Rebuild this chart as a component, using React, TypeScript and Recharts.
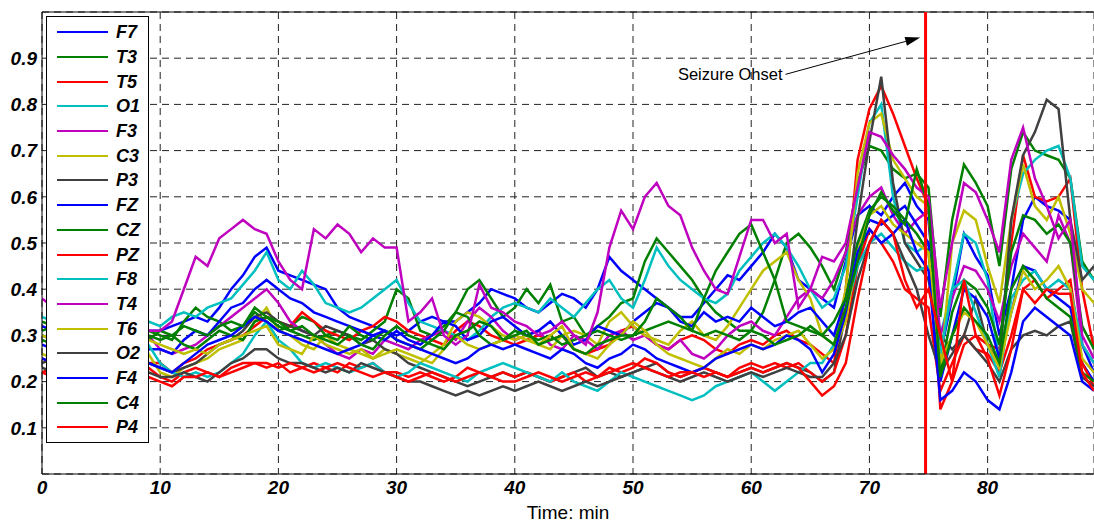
import { LineChart, Line, XAxis, YAxis, CartesianGrid, ReferenceLine, Legend } from 'recharts';

// minutes since start of recording
const MINUTES = [
  0, 1, 2, 3, 4, 5, 6, 7, 8, 9, 10, 11, 12, 13, 14, 15, 16, 17, 18, 19,
  20, 21, 22, 23, 24, 25, 26, 27, 28, 29, 30, 31, 32, 33, 34, 35, 36, 37, 38, 39,
  40, 41, 42, 43, 44, 45, 46, 47, 48, 49, 50, 51, 52, 53, 54, 55, 56, 57, 58, 59,
  60, 61, 62, 63, 64, 65, 66, 67, 68, 69, 70, 71, 72, 73, 74, 75, 76, 77, 78, 79,
  80, 81, 82, 83, 84, 85, 86, 87, 88, 89,
];

// channel values, in hundredths
const F7 = [
  32, 31, 33, 34, 33, 32, 31, 33, 32, 31,
  31, 32, 33, 34, 33, 36, 40, 43, 47, 49,
  44, 43, 42, 41, 40, 36, 34, 33, 32, 31,
  30, 31, 33, 34, 33, 33, 35, 37, 40, 39,
  38, 36, 35, 37, 39, 38, 36, 40, 47, 44,
  42, 40, 38, 36, 34, 34, 37, 40, 43, 42,
  45, 48, 52, 49, 42, 40, 38, 36, 46, 56,
  58, 56, 60, 63, 58, 55, 26, 38, 52, 47,
  43, 30, 40, 55, 60, 58, 57, 55, 28, 22,
];
const T3 = [
  33, 32, 31, 32, 31, 30, 31, 32, 31, 31,
  30, 29, 33, 36, 34, 33, 31, 32, 35, 33,
  31, 32, 34, 33, 30, 31, 30, 29, 31, 33,
  40, 38, 31, 30, 32, 35, 40, 42, 38, 34,
  36, 40, 37, 41, 33, 34, 30, 32, 34, 37,
  38, 46, 51, 48, 45, 42, 38, 35, 33, 31,
  31, 35, 42, 50, 52, 49, 45, 40, 48, 63,
  71, 70, 66, 64, 65, 62, 34, 55, 67, 63,
  58, 45, 66, 74, 70, 69, 68, 64, 46, 42,
];
const T5 = [
  25, 24, 26, 25, 24, 23, 24, 25, 24, 24,
  24, 22, 24, 25, 27, 28, 29, 30, 32, 34,
  33, 32, 35, 33, 31, 30, 29, 31, 32, 34,
  33, 31, 30, 29, 28, 31, 33, 32, 30, 29,
  28, 29, 30, 29, 30, 27, 26, 27, 28, 31,
  32, 30, 28, 27, 29, 30, 29, 27, 26, 28,
  29, 28, 30, 31, 29, 28, 26, 24, 40, 68,
  79, 84, 78, 71, 64, 58, 14, 20, 28, 30,
  28, 27, 50, 69, 60, 59, 60, 64, 40, 27,
];
const O1 = [
  34, 33, 35, 34, 33, 32, 33, 34, 33, 33,
  32, 34, 35, 34, 36, 37, 38, 41, 44, 48,
  42, 40, 44, 41, 37, 36, 35, 36, 38, 40,
  42, 37, 33, 32, 31, 30, 29, 31, 34, 36,
  37, 36, 35, 38, 36, 34, 37, 40, 42, 38,
  36, 42, 49, 45, 42, 40, 38, 37, 39, 44,
  47, 50, 52, 49, 45, 40, 36, 38, 45, 60,
  76, 80, 60, 50, 48, 50, 30, 40, 52, 50,
  42, 24, 55, 65, 68, 70, 71, 64, 45, 42,
];
const F3 = [
  30, 29, 30, 31, 30, 29, 28, 29, 30, 30,
  27, 26, 27, 28, 30, 32, 34, 36, 38, 40,
  37, 33, 31, 30, 28, 26, 25, 27, 26, 29,
  28, 27, 29, 30, 31, 29, 33, 36, 34, 31,
  29, 30, 31, 28, 27, 30, 29, 27, 30, 31,
  29, 30, 28, 27, 29, 26, 25, 27, 30, 32,
  33, 31, 30, 34, 38, 40, 38, 42, 48, 56,
  60, 62, 56, 52, 55, 57, 30, 38, 45, 44,
  40, 33, 45, 52, 49, 46, 56, 50, 28, 24,
];
const C3 = [
  26, 25, 27, 26, 25, 24, 25, 26, 25, 26,
  22, 21, 23, 24, 25, 27, 28, 29, 33, 36,
  31, 30, 28, 27, 30, 28, 27, 26, 25, 27,
  26, 25, 24, 26, 28, 33, 35, 34, 32, 30,
  29, 30, 28, 27, 30, 31, 30, 28, 33, 35,
  32, 30, 29, 28, 31, 33, 30, 29, 32, 36,
  40, 44, 46, 48, 42, 38, 30, 28, 40, 65,
  76, 78, 68, 64, 60, 58, 22, 50, 57, 55,
  45, 37, 55, 67, 58, 55, 60, 52, 40, 37,
];
const P3 = [
  24, 25, 24, 23, 24, 25, 24, 23, 24, 24,
  23, 22, 23, 24, 26, 28, 29, 31, 34, 35,
  33, 32, 31, 30, 32, 31, 30, 28, 29, 27,
  26, 24, 23, 22, 21, 20, 19, 20, 21, 22,
  21, 22, 21, 20, 21, 22, 23, 21, 22, 21,
  22, 23, 24, 22, 21, 22, 23, 22, 21, 22,
  23, 22, 23, 24, 23, 22, 20, 22, 35, 55,
  72, 86, 63, 50, 46, 42, 30, 27, 30, 38,
  28, 24, 55, 69, 74, 81, 79, 55, 42, 45,
];
const FZ = [
  28, 27, 28, 29, 28, 27, 28, 29, 28, 27,
  27, 26, 29, 31, 30, 33, 36, 37, 40, 42,
  40, 38, 37, 35, 34, 33, 32, 31, 30, 29,
  31, 29, 28, 30, 33, 32, 29, 30, 33, 34,
  32, 30, 31, 33, 30, 28, 29, 32, 31, 30,
  33, 35, 37, 36, 33, 32, 35, 33, 34, 33,
  36, 34, 32, 33, 35, 36, 33, 30, 38, 50,
  55, 54, 56, 58, 54, 50, 20, 30, 40, 38,
  34, 25, 35, 45, 44, 40, 38, 36, 24, 20,
];
const CZ = [
  29, 28, 27, 28, 29, 28, 27, 28, 28, 29,
  31, 30, 28, 27, 29, 31, 30, 29, 33, 34,
  32, 31, 30, 29, 30, 29, 32, 30, 29, 31,
  29, 28, 27, 29, 31, 35, 34, 30, 28, 29,
  31, 30, 29, 30, 28, 29, 30, 31, 30, 29,
  30, 31, 32, 33, 32, 31, 38, 44, 48, 52,
  54, 48, 42, 33, 32, 31, 30, 33, 38, 50,
  57, 60, 58, 55, 52, 48, 22, 35, 42, 40,
  36, 28, 48, 56, 55, 52, 54, 50, 32, 27,
];
const PZ = [
  22, 23, 24, 23, 22, 23, 24, 23, 22, 23,
  21, 20, 22, 23, 22, 21, 23, 24, 24, 23,
  24, 22, 23, 24, 23, 22, 24, 23, 24, 22,
  22, 21, 22, 21, 20, 21, 23, 22, 21, 22,
  21, 22, 21, 20, 21, 22, 20, 21, 23, 22,
  23, 25, 24, 22, 21, 22, 23, 22, 21, 23,
  24, 23, 24, 23, 24, 22, 20, 22, 30, 45,
  53, 50, 46, 40, 38, 36, 18, 24, 30, 27,
  26, 22, 30, 40, 42, 38, 40, 42, 24, 19,
];
const F8 = [
  30, 29, 28, 27, 28, 27, 26, 27, 28, 28,
  24, 22, 21, 22, 21, 22, 24, 26, 30, 33,
  29, 27, 24, 23, 24, 23, 22, 23, 24, 22,
  21, 22, 24, 23, 22, 21, 20, 22, 23, 24,
  23, 22, 21, 20, 22, 20, 19, 18, 20, 22,
  21, 20, 19, 18, 17, 16, 17, 19, 20, 21,
  22, 20, 18, 20, 22, 24, 24, 28, 35, 45,
  50, 52, 49, 46, 44, 45, 26, 40, 42, 35,
  28, 21, 38, 42, 44, 40, 42, 40, 28, 24,
];
const T4 = [
  38, 36, 35, 34, 33, 32, 31, 30, 30, 31,
  31, 33, 40, 47, 45, 51, 53, 55, 53, 52,
  46, 42, 40, 53, 51, 54, 52, 48, 51, 49,
  49, 33, 35, 38, 30, 28, 30, 41, 36, 35,
  33, 32, 30, 31, 33, 30, 28, 35, 49, 57,
  53, 60, 63, 58, 56, 49, 44, 40, 39, 47,
  55, 55, 50, 52, 36, 40, 47, 46, 50, 62,
  74, 73, 69, 66, 62, 60, 36, 50, 63, 61,
  55, 48, 68, 75, 64, 58, 51, 55, 30, 25,
];
const T6 = [
  30, 29, 28, 29, 30, 29, 28, 29, 30, 29,
  28, 27, 26, 27, 26, 28, 29, 30, 31, 32,
  28, 27, 26, 30, 28, 27, 26, 27, 25, 26,
  27, 26, 25, 24, 27, 30, 28, 27, 28, 29,
  30, 29, 28, 30, 32, 27, 26, 25, 28, 30,
  33, 31, 28, 26, 25, 24, 23, 25, 27, 26,
  28, 27, 29, 30, 31, 28, 25, 27, 33, 48,
  56, 58, 54, 52, 50, 48, 24, 30, 35, 33,
  28, 23, 35, 44, 40, 42, 45, 40, 25, 22,
];
const O2 = [
  23, 22, 23, 22, 21, 22, 23, 22, 21, 22,
  21, 21, 22, 21, 20, 22, 24, 25, 27, 27,
  25, 24, 24, 23, 22, 23, 22, 24, 23, 22,
  21, 20, 20, 19, 18, 17, 18, 17, 18, 19,
  18, 19, 20, 19, 18, 19, 20, 19, 20, 21,
  22, 23, 22, 21, 20, 21, 22, 21, 20, 21,
  22, 21, 22, 23, 22, 21, 21, 24, 30, 42,
  50, 55, 52, 46, 40, 30, 22, 26, 30, 27,
  24, 20, 27, 30, 31, 30, 32, 33, 21, 19,
];
const F4 = [
  25, 24, 25, 26, 25, 24, 25, 26, 25, 24,
  23, 22, 24, 26, 28, 29, 30, 32, 34, 33,
  31, 30, 29, 28, 27, 26, 27, 28, 30, 31,
  29, 28, 27, 26, 25, 24, 25, 27, 28, 27,
  28, 27, 26, 25, 27, 26, 24, 23, 25, 26,
  28, 27, 25, 24, 23, 22, 23, 25, 26, 27,
  28, 27, 28, 30, 29, 27, 22, 26, 35, 48,
  53, 50, 52, 55, 48, 44, 16, 18, 22, 20,
  16, 14, 22, 33, 36, 34, 32, 30, 20, 18,
];
const C4 = [
  31, 32, 33, 31, 30, 31, 32, 31, 30, 30,
  29, 30, 32, 31, 30, 32, 33, 32, 36, 34,
  33, 31, 32, 30, 29, 28, 30, 28, 27, 30,
  32, 30, 29, 28, 27, 30, 31, 33, 32, 29,
  30, 31, 28, 29, 30, 27, 26, 28, 29, 30,
  30, 33, 38, 36, 34, 31, 30, 31, 30, 29,
  31, 30, 28, 29, 30, 32, 30, 28, 36, 46,
  56, 61, 57, 54, 66, 58, 21, 30, 36, 33,
  30, 24, 40, 45, 42, 38, 36, 34, 22, 20,
];
const P4 = [
  22, 21, 20, 21, 22, 21, 20, 21, 22, 21,
  20, 19, 21, 21, 22, 21, 22, 23, 24, 24,
  23, 24, 23, 22, 23, 24, 23, 22, 21, 22,
  21, 20, 21, 22, 21, 20, 21, 22, 21, 20,
  20, 21, 22, 21, 20, 21, 22, 21, 22, 23,
  24, 23, 22, 21, 22, 22, 21, 22, 21, 22,
  23, 22, 23, 24, 23, 20, 17, 19, 24, 38,
  50, 55, 52, 42, 36, 40, 30, 20, 42, 30,
  25, 17, 27, 40, 37, 40, 39, 39, 22, 18,
];

const SERIES = [
  { name: 'F7', color: '#0000ff', values: F7 },
  { name: 'T3', color: '#008000', values: T3 },
  { name: 'T5', color: '#ff0000', values: T5 },
  { name: 'O1', color: '#00bfbf', values: O1 },
  { name: 'F3', color: '#bf00bf', values: F3 },
  { name: 'C3', color: '#bfbf00', values: C3 },
  { name: 'P3', color: '#404040', values: P3 },
  { name: 'FZ', color: '#0000ff', values: FZ },
  { name: 'CZ', color: '#008000', values: CZ },
  { name: 'PZ', color: '#ff0000', values: PZ },
  { name: 'F8', color: '#00bfbf', values: F8 },
  { name: 'T4', color: '#bf00bf', values: T4 },
  { name: 'T6', color: '#bfbf00', values: T6 },
  { name: 'O2', color: '#404040', values: O2 },
  { name: 'F4', color: '#0000ff', values: F4 },
  { name: 'C4', color: '#008000', values: C4 },
  { name: 'P4', color: '#ff0000', values: P4 },
];

const X_TICKS = [0, 10, 20, 30, 40, 50, 60, 70, 80];
const Y_TICKS = [0.1, 0.2, 0.3, 0.4, 0.5, 0.6, 0.7, 0.8, 0.9];
const ONSET_MIN = 74.75;
const ARROW_FROM = { x: 62.9, y: 0.865 };
const ARROW_TO = { x: 74.3, y: 0.945 };

const FONT = '"Liberation Sans", Arial, Helvetica, sans-serif';

const rows = MINUTES.map((t, i) => {
  const row: Record<string, number> = { t };
  SERIES.forEach(s => { row[s.name] = s.values[i] / 100; });
  return row;
});

const tickStyle = {
  fontSize: 19, fontWeight: 700, fontStyle: 'italic', fill: '#000', fontFamily: FONT,
};

const ArrowShape = (props: any) => {
  const { x1, y1, x2, y2 } = props;
  if (x1 == null || x2 == null) return null;
  const ang = Math.atan2(y2 - y1, x2 - x1);
  const len = 15, half = 4.5;
  const bx = x2 - len * Math.cos(ang), by = y2 - len * Math.sin(ang);
  const px = -Math.sin(ang) * half, py = Math.cos(ang) * half;
  return (
    <g>
      <line x1={x1} y1={y1} x2={bx} y2={by} stroke="#000" strokeWidth={1} />
      <polygon points={`${x2},${y2} ${bx + px},${by + py} ${bx - px},${by - py}`} fill="#000" />
      <text x={x1 - 3} y={y1 + 6} textAnchor="end" fontSize={16.5} fontFamily={FONT} fill="#000">
        Seizure Ohset
      </text>
    </g>
  );
};

const renderLegend = () => (
  <div style={{
    width: 103, height: 427, boxSizing: 'border-box', border: '1px solid #000',
    background: '#fff', paddingTop: 3,
  }}>
    {SERIES.map(s => (
      <div key={s.name} style={{ display: 'flex', alignItems: 'center', height: 24.7 }}>
        <span style={{ display: 'inline-block', marginLeft: 10, width: 51, height: 2, background: s.color }} />
        <span style={{
          marginLeft: 8, fontFamily: FONT, fontSize: 18, fontWeight: 700, fontStyle: 'italic',
          color: '#000', lineHeight: 1,
        }}>{s.name}</span>
      </div>
    ))}
  </div>
);

export default function App() {
  return (
    <div style={{ position: 'absolute', left: 0, top: 0, width: 1094, height: 523, background: '#fff' }}>
      <LineChart width={1094} height={523} data={rows} margin={{ top: 12, right: 0, bottom: 19, left: 0 }}>
        <CartesianGrid stroke="#222" strokeDasharray="7 5" />
        <XAxis
          dataKey="t" type="number" domain={[0, 89]} ticks={X_TICKS} allowDataOverflow
          height={30} tickLine={false} tickSize={0} tickMargin={7} tick={tickStyle}
          axisLine={{ stroke: '#000' }}
          label={{ value: 'Time: min', position: 'bottom', offset: 2, fontSize: 19, fill: '#000', fontFamily: FONT }}
        />
        <YAxis
          type="number" domain={[0, 1]} ticks={Y_TICKS} width={42}
          tickLine={false} tickSize={0} tickMargin={5} tick={tickStyle}
          axisLine={{ stroke: '#000' }} tickFormatter={(v: number) => v.toFixed(1)}
        />
        <ReferenceLine y={1} stroke="#000" strokeWidth={1} />
        {SERIES.map(s => (
          <Line
            key={s.name} dataKey={s.name} stroke={s.color} strokeWidth={2.5}
            dot={false} type="linear" isAnimationActive={false}
          />
        ))}
        <ReferenceLine x={ONSET_MIN} stroke="#ff0000" strokeWidth={3} />
        <ReferenceLine segment={[ARROW_FROM, ARROW_TO]} shape={ArrowShape} />
        <Legend
          content={renderLegend} layout="vertical" align="center" verticalAlign="middle"
          wrapperStyle={{ left: 46, top: 16, width: 103, height: 427 }}
        />
      </LineChart>
    </div>
  );
}
